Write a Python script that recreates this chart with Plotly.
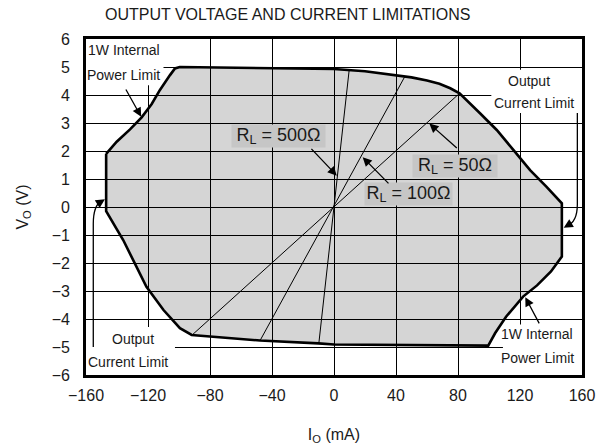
import plotly.graph_objects as go

# ---------------- data ----------------
x_ticks = [-160, -120, -80, -40, 0, 40, 80, 120, 160]
x_ticktext = ["\u2212160", "\u2212120", "\u221280", "\u221240", "0", "40", "80", "120", "160"]
y_ticks = [6, 5, 4, 3, 2, 1, 0, -1, -2, -3, -4, -5, -6]
y_ticktext = ["6", "5", "4", "3", "2", "1", "0", "\u22121", "\u22122", "\u22123", "\u22124", "\u22125", "\u22126"]

# boundary of the allowed output region (I_O in mA, V_O in V)
boundary_i = [-147, -140.2, -131.6, -124.1, -117.6, -112.3, -105.8, -102.6, -99.5, -50, 0, 20,
              40, 50, 60, 68, 75, 81, 94.2, 105, 115.7, 126.5, 137, 147, 147, 140, 131, 122,
              111, 104, 99.5, 50, 0, -10, -47.7, -91.8, -99.4, -110, -121, -136, -147, -147]
boundary_v = [1.9, 2.33, 2.77, 3.2, 3.68, 4.18, 4.71, 4.95, 5.0, 4.97, 4.93, 4.85,
              4.7, 4.63, 4.52, 4.4, 4.24, 4.06, 3.35, 2.75, 2.04, 1.32, 0.73, 0.13, -1.77, -2.3, -2.8, -3.2,
              -3.92, -4.5, -4.95, -4.94, -4.91, -4.87, -4.77, -4.57, -4.33, -3.68, -2.85, -1.18, -0.15, 1.9]

# load lines through the origin
load_names = ["500", "100", "50"]
load_i = [[-9.8, 9.8], [-47.7, 45.8], [-91.5, 81.0]]
load_v = [[-4.88, 4.9], [-4.77, 4.67], [-4.57, 4.06]]

# ---------------- figure ----------------
fig = go.Figure()

fig.add_trace(go.Scatter(x=boundary_i, y=boundary_v, mode="lines", fill="toself",
                         fillcolor="rgba(0,0,0,0.165)",
                         line=dict(color="black", width=2.6), hoverinfo="skip",
                         showlegend=False))
for li, lv in zip(load_i, load_v):
    fig.add_trace(go.Scatter(x=li, y=lv, mode="lines", line=dict(color="black", width=1),
                             hoverinfo="skip", showlegend=False))

txt = "#1a1a1a"
FONT = "Liberation Sans, Arial, sans-serif"

# white label boxes (cover gridlines)
for x0, x1, y0, y1 in [(-160, -110, 4.35, 6), (101.5, 160, 3.36, 4.9),
                       (-160, -102.6, -6, -4.29), (109, 160, -6, -4.2)]:
    fig.add_shape(type="rect", x0=x0, x1=x1, y0=y0, y1=y1, xref="x", yref="y",
                  fillcolor="white", line=dict(width=0), layer="between")

# curved arrow paths
fig.add_shape(type="path", path="M 157,3.36 L 157,0.1 Q 157,-0.55 150,-0.68",
              line=dict(color="black", width=1.3), layer="above")
fig.add_shape(type="path", path="M -155.3,-5.0 L -155.3,-0.6 Q -155.3,0.05 -150,0.22",
              line=dict(color="black", width=1.3), layer="above")

ann = []
def label(x, y, text, size=14, bg=None, w=None, h=None):
    d = dict(x=x, y=y, xref="x", yref="y", text=text, showarrow=False,
             font=dict(family=FONT, size=size, color=txt))
    if bg:
        d.update(bgcolor=bg, width=w, height=h, borderpad=0)
    ann.append(d)

label(-135.5, 5.6, "1W Internal")
label(-135.5, 4.7, "Power Limit")
label(126, 4.5, "Output")
label(129, 3.7, "Current Limit")
label(-130, -4.7, "Output")
label(-133, -5.55, "Current Limit")
label(131, -4.55, "1W Internal")
label(131, -5.4, "Power Limit")

label(-35.8, 2.54, "R<sub>L</sub> = 500\u03a9", size=18, bg="#c6c6c6", w=93, h=22)
label(78.1, 1.46, "R<sub>L</sub> = 50\u03a9", size=18, bg="#c6c6c6", w=84, h=22)
label(48.1, 0.48, "R<sub>L</sub> = 100\u03a9", size=18, bg="#c6c6c6", w=87, h=22)

def arrow(tx, ty, hx, hy):
    ann.append(dict(x=hx, y=hy, ax=tx, ay=ty, xref="x", yref="y", axref="x", ayref="y",
                    text="", showarrow=True, arrowhead=2, arrowsize=1.4, arrowwidth=1.3,
                    arrowcolor="black"))

arrow(-134.8, 4.25, -124.4, 3.22)
arrow(-15.5, 2.13, 1.8, 1.12)
arrow(80.2, 2.06, 61.5, 2.98)
arrow(36.1, 0.79, 18.5, 1.78)
arrow(132.9, -4.21, 123.4, -3.22)
arrow(152.5, -0.6, 148.2, -0.74)
arrow(-151.5, 0.15, -147.8, 0.28)

# title
ann.append(dict(x=(287 - 86) / 496, y=(39 - 14) / 336 + 1, xref="paper", yref="paper",
                xanchor="center", yanchor="middle", showarrow=False,
                text="OUTPUT VOLTAGE AND CURRENT LIMITATIONS",
                font=dict(family=FONT, size=16, color=txt)))
fig.layout.annotations = ann

axis_common = dict(showline=True, mirror=True, linecolor="black", linewidth=2.6,
                   showgrid=True, gridcolor="black", gridwidth=1, zeroline=False,
                   ticks="", tickfont=dict(family=FONT, size=16, color=txt),
                   fixedrange=True, automargin=False)

fig.update_xaxes(range=[-160, 160], tickvals=x_ticks, ticktext=x_ticktext,
                 ticklabelstandoff=4,
                 title=dict(text="I<sub>O</sub> (mA)", font=dict(family=FONT, size=16, color=txt),
                            standoff=28), **axis_common)
fig.update_yaxes(range=[-6, 6], tickvals=y_ticks, ticktext=y_ticktext,
                 ticklabelstandoff=10,
                 title=dict(text="V<sub>O</sub> (V)", font=dict(family=FONT, size=16, color=txt),
                            standoff=20), **axis_common)

fig.update_layout(width=608, height=445, margin=dict(l=86, r=26, t=39, b=70),
                  plot_bgcolor="white", paper_bgcolor="white", showlegend=False)

fig.write_html("out.html", post_script="document.body.style.margin='0';",
               config={"displayModeBar": False})
